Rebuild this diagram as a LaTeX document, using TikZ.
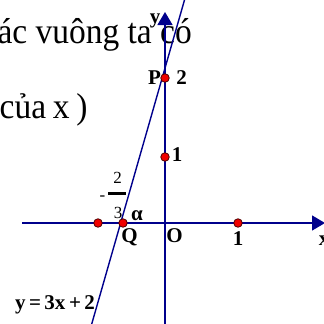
\documentclass[tikz,border=0pt]{standalone}
\usepackage{fontspec}
\setmainfont{Liberation Serif}
\usetikzlibrary{arrows.meta}
\definecolor{axisblue}{RGB}{0,0,140}
\definecolor{ptred}{RGB}{240,0,0}
\tikzset{
  axis/.style={draw=axisblue, line width=1.4pt, -{Triangle[length=13pt,width=15pt]}},
  graphline/.style={draw=axisblue, line width=1.4pt},
  pt/.style={circle, fill=ptred, draw=black!70!red, line width=0.8pt, inner sep=0pt, minimum size=8.5pt},
  lbl/.style={inner sep=0pt, font=\fontsize{21}{22}\selectfont\bfseries},
  big/.style={inner sep=0pt, font=\fontsize{36}{38}\selectfont, anchor=base west},
  frac/.style={inner sep=0pt, font=\fontsize{17}{18}\selectfont}
}
\begin{document}
\begin{tikzpicture}[x=1pt,y=-1pt]
\useasboundingbox (0,0) rectangle (324,324);
\clip (0,0) rectangle (324,324);
% text
\node[big, anchor=base east] (t1) at (192,43) {\scalebox{0.93}[1]{giác vuông ta có}};
\node[big] (t2) at (-0.5,118) {\scalebox{0.93}[1]{của\hspace{0.2em}x\hspace{0.2em})}};
% axes
\coordinate (xs) at (22,223);
\coordinate (xe) at (325,223);
\coordinate (ys) at (165,330);
\coordinate (ye) at (165,12);
\draw[axis] (xs) -- (xe);
\draw[axis] (ys) -- (ye);
% line y=3x+2
\coordinate (la) at (184.5,0);
\coordinate (lb) at (90,330);
\draw[graphline] (la) -- (lb);
% points
\node[pt] (P) at (165,78) {};
\node[pt] (Y1) at (165,157) {};
\node[pt] (A) at (98,223) {};
\node[pt] (Q) at (123,223) {};
\node[pt] (X1) at (238,223) {};
% labels
\node[lbl] (ylab) at (155,21) {y};
\node[lbl] (Plab) at (154.5,77.5) {P};
\node[lbl] (P2) at (181.5,78) {2};
\node[lbl] (Y1lab) at (177,155) {1};
\node[frac] (n2) at (117.5,178) {2};
\fill (108,191.5) rectangle (126,195) coordinate (bar);
\node[frac] (minus) at (102.5,198) {-};
\node[frac] (d3) at (118,213) {3};
\node[lbl] (alpha) at (137,216) {α};
\node[lbl] (Qlab) at (129.5,237) {Q};
\node[lbl] (Olab) at (174.5,235.5) {O};
\node[lbl] (X1lab) at (238,239) {1};
\node[lbl] (xlab) at (324,241) {x};
\node[lbl] (eq) at (55,305) {y\,=\,3x\,+\,2};
\end{tikzpicture}
\end{document}
